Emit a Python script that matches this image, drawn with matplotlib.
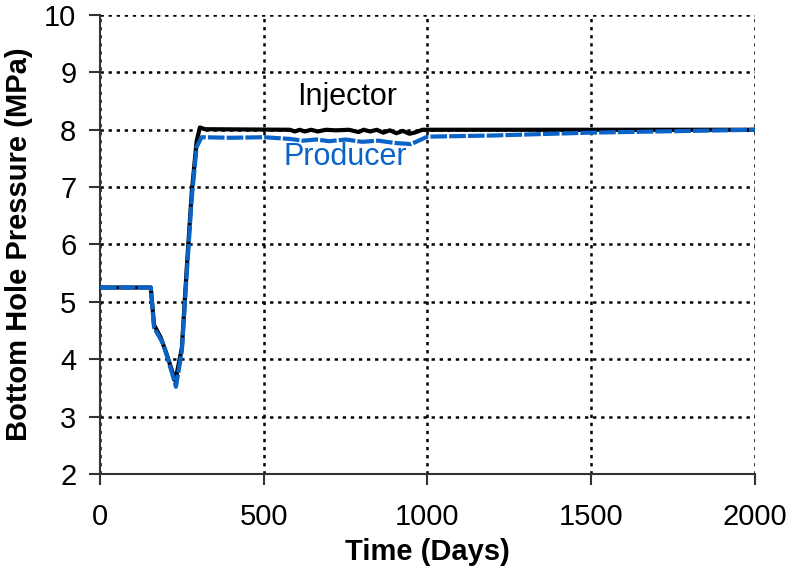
import numpy as np
import matplotlib
matplotlib.use('Agg')
import matplotlib.pyplot as plt

plt.rcParams['font.family'] = ['Liberation Sans', 'DejaVu Sans']

# Injector bottom hole pressure (MPa) vs time (days)
inj_days = [0, 155, 165, 185, 200, 230, 250, 265, 280, 295, 305, 320,
            580, 595, 610, 625, 645, 665, 690, 720, 760, 790, 805, 825,
            845, 865, 885, 905, 925, 945, 960, 985, 1200, 1600, 2000]
inj_mpa = [5.25, 5.25, 4.6, 4.38, 4.15, 3.62, 4.2, 5.6, 6.9, 7.8, 8.04, 8.01,
           8.0, 7.97, 8.0, 7.97, 8.0, 7.97, 8.0, 7.99, 8.0, 7.96, 8.0, 7.97,
           8.0, 7.95, 7.99, 7.94, 7.98, 7.93, 7.95, 8.0, 8.0, 8.0, 8.0]

# Producer bottom hole pressure (MPa) vs time (days)
prod_days = [0, 155, 165, 190, 205, 232, 250, 265, 280, 295, 310, 400, 500,
             580, 620, 660, 700, 750, 800, 850, 900, 950, 1000, 1200, 1500,
             1800, 2000]
prod_mpa = [5.25, 5.25, 4.55, 4.3, 4.05, 3.52, 4.15, 5.5, 6.8, 7.7, 7.87,
            7.86, 7.87, 7.84, 7.81, 7.83, 7.8, 7.83, 7.79, 7.81, 7.77, 7.75,
            7.88, 7.9, 7.95, 7.98, 8.0]

fig = plt.figure(figsize=(7.9, 5.69), dpi=100)
ax = fig.add_axes([0.1266, 0.167, 0.829, 0.8066])

ax.plot(inj_days, inj_mpa, color='black', lw=3, zorder=3)
ax.plot(prod_days, prod_mpa, color='#0a64c8', lw=3, dashes=(4.0, 0.5), zorder=4)

ax.set_xlim(0, 2000)
ax.set_ylim(2, 10)
ax.set_xticks([0, 500, 1000, 1500, 2000])
ax.set_yticks(range(2, 11))
ax.grid(True, color='black', linestyle=(0, (1.33, 1.9)), lw=1.8)
ax.spines['top'].set_visible(False)
ax.spines['right'].set_visible(False)
for s in ['left', 'bottom']:
    ax.spines[s].set_linewidth(1.5)
    ax.spines[s].set_color('#333333')
ax.tick_params(direction='out', length=8, width=1.5, color='#333333', labelsize=21)
ax.tick_params(axis='x', pad=13)
ax.tick_params(axis='y', pad=9)

ax.set_xlabel('Time (Days)', fontsize=21, fontweight='bold', labelpad=5)
ax.set_ylabel('Bottom Hole Pressure (MPa)', fontsize=21, fontweight='bold', labelpad=8)

ax.text(754, 8.57, 'Injector', fontsize=22, color='black', ha='center', va='center')
ax.text(748, 7.52, 'Producer', fontsize=22, color='#0a64c8', ha='center', va='center')

fig.savefig('out.png', dpi=100)
